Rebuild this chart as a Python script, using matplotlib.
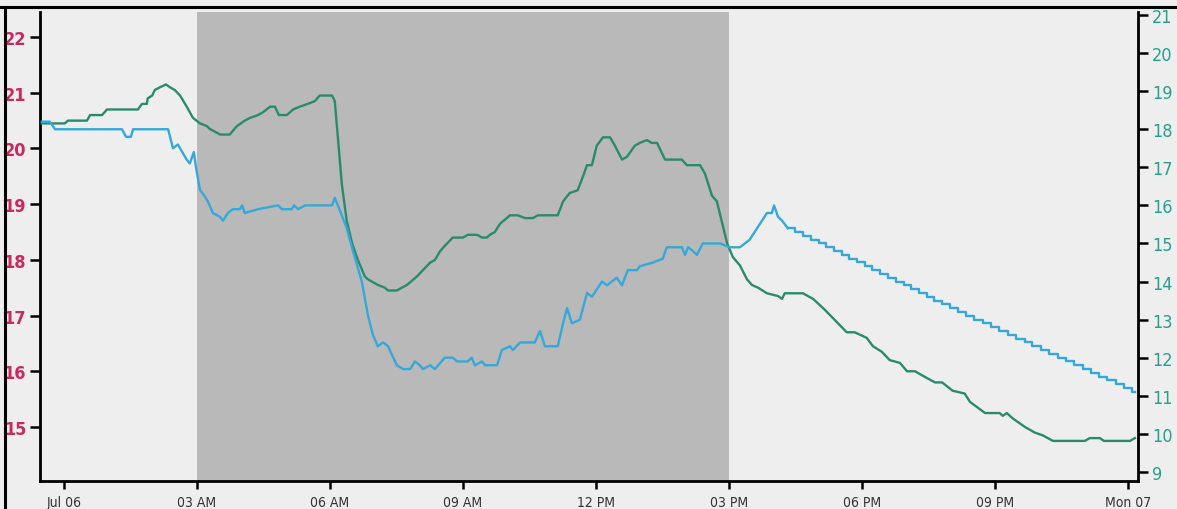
import matplotlib
matplotlib.use("Agg")
import matplotlib.pyplot as plt
from matplotlib.lines import Line2D

# hours since Jul 06 00:00
green_hours = [-0.50, 0.02, 0.09, 0.52, 0.59, 0.86, 0.97, 1.04, 1.67, 1.76,
               1.87, 1.89, 1.99, 2.05, 2.17, 2.30, 2.39, 2.50, 2.62, 2.77,
               2.91, 3.07, 3.23, 3.29, 3.41, 3.52, 3.74, 3.90, 4.08, 4.20,
               4.38, 4.49, 4.65, 4.76, 4.85, 5.03, 5.17, 5.32, 5.50, 5.66,
               5.77, 6.05, 6.11, 6.18, 6.27, 6.38, 6.50, 6.63, 6.79, 6.86,
               6.97, 7.08, 7.24, 7.31, 7.51, 7.62, 7.74, 7.96, 8.26, 8.37,
               8.48, 8.59, 8.77, 9.00, 9.11, 9.32, 9.43, 9.54, 9.61, 9.72,
               9.84, 9.99, 10.06, 10.24, 10.40, 10.58, 10.69, 11.14, 11.26, 11.41,
               11.59, 11.71, 11.80, 11.91, 12.02, 12.16, 12.32, 12.43, 12.59, 12.70,
               12.88, 12.99, 13.15, 13.26, 13.38, 13.56, 13.94, 14.05, 14.35, 14.46,
               14.62, 14.73, 14.96, 15.09, 15.25, 15.41, 15.52, 15.66, 15.86, 16.11,
               16.20, 16.26, 16.67, 16.90, 17.17, 17.66, 17.84, 18.11, 18.25, 18.45,
               18.63, 18.86, 19.02, 19.20, 19.42, 19.65, 19.81, 20.05, 20.32, 20.44,
               20.78, 21.11, 21.18, 21.27, 21.41, 21.68, 21.90, 22.08, 22.31, 23.03,
               23.14, 23.37, 23.46, 24.05, 24.16]
green_temp = [20.45, 20.45, 20.5, 20.5, 20.6, 20.6, 20.7, 20.7, 20.7, 20.8,
              20.8, 20.9, 20.95, 21.05, 21.1, 21.15, 21.1, 21.05, 20.95, 20.75,
              20.55, 20.45, 20.4, 20.35, 20.3, 20.25, 20.25, 20.4, 20.5, 20.55,
              20.6, 20.65, 20.75, 20.75, 20.6, 20.6, 20.7, 20.75, 20.8, 20.85,
              20.95, 20.95, 20.85, 20.2, 19.35, 18.7, 18.3, 18.0, 17.7, 17.65,
              17.6, 17.55, 17.5, 17.45, 17.45, 17.5, 17.55, 17.7, 17.95, 18.0,
              18.15, 18.25, 18.4, 18.4, 18.45, 18.45, 18.4, 18.4, 18.45, 18.5,
              18.65, 18.75, 18.8, 18.8, 18.75, 18.75, 18.8, 18.8, 19.05, 19.2,
              19.25, 19.5, 19.7, 19.7, 20.05, 20.2, 20.2, 20.05, 19.8, 19.85,
              20.05, 20.1, 20.15, 20.1, 20.1, 19.8, 19.8, 19.7, 19.7, 19.55,
              19.15, 19.05, 18.3, 18.05, 17.9, 17.65, 17.55, 17.5, 17.4, 17.35,
              17.3, 17.4, 17.4, 17.3, 17.1, 16.7, 16.7, 16.6, 16.45, 16.35,
              16.2, 16.15, 16.0, 16.0, 15.9, 15.8, 15.8, 15.65, 15.6, 15.45,
              15.25, 15.25, 15.2, 15.25, 15.15, 15.0, 14.9, 14.85, 14.75, 14.75,
              14.8, 14.8, 14.75, 14.75, 14.8]

blue_hours = [-0.50, -0.32, -0.20, 1.31, 1.40, 1.51, 1.56, 2.35, 2.46, 2.57,
              2.77, 2.84, 2.93, 2.98, 3.07, 3.14, 3.25, 3.36, 3.52, 3.59,
              3.70, 3.81, 3.97, 4.02, 4.08, 4.38, 4.83, 4.92, 5.14, 5.19,
              5.28, 5.44, 6.05, 6.11, 6.18, 6.38, 6.52, 6.72, 6.86, 6.97,
              7.08, 7.20, 7.31, 7.51, 7.65, 7.81, 7.92, 8.03, 8.10, 8.26,
              8.37, 8.59, 8.77, 8.87, 9.11, 9.20, 9.27, 9.43, 9.50, 9.77,
              9.88, 10.06, 10.13, 10.29, 10.44, 10.62, 10.74, 10.85, 11.14, 11.26,
              11.35, 11.46, 11.64, 11.80, 11.91, 12.14, 12.25, 12.47, 12.59, 12.72,
              12.93, 12.99, 13.29, 13.51, 13.60, 13.94, 14.01, 14.08, 14.19, 14.28,
              14.41, 14.80, 15.02, 15.25, 15.36, 15.47, 15.86, 15.97, 16.02, 16.11,
              16.20, 16.33]
blue_temp = [18.2, 18.2, 18.0, 18.0, 17.8, 17.8, 18.0, 18.0, 17.5, 17.6,
             17.2, 17.1, 17.4, 17.0, 16.4, 16.3, 16.1, 15.8, 15.7, 15.6,
             15.8, 15.9, 15.9, 16.0, 15.8, 15.9, 16.0, 15.9, 15.9, 16.0,
             15.9, 16.0, 16.0, 16.2, 16.0, 15.4, 14.8, 14.0, 13.1, 12.6,
             12.3, 12.4, 12.3, 11.8, 11.7, 11.7, 11.9, 11.8, 11.7, 11.8,
             11.7, 12.0, 12.0, 11.9, 11.9, 12.0, 11.8, 11.9, 11.8, 11.8,
             12.2, 12.3, 12.2, 12.4, 12.4, 12.4, 12.7, 12.3, 12.3, 12.9,
             13.3, 12.9, 13.0, 13.7, 13.6, 14.0, 13.9, 14.1, 13.9, 14.3,
             14.3, 14.4, 14.5, 14.6, 14.9, 14.9, 14.7, 14.9, 14.8, 14.7,
             15.0, 15.0, 14.9, 14.9, 15.0, 15.1, 15.8, 15.8, 16.0, 15.7,
             15.6, 15.4]

# evening cool-down, read step by step
blue_tail_hours = [16.33, 16.50, 16.68, 16.85, 17.03, 17.20, 17.37, 17.55, 17.72, 17.89,
                   18.07, 18.24, 18.41, 18.59, 18.76, 18.94, 19.11, 19.28, 19.46, 19.63,
                   19.80, 19.98, 20.17, 20.35, 20.54, 20.73, 20.92, 21.10, 21.29, 21.48,
                   21.67, 21.85, 22.04, 22.23, 22.42, 22.60, 22.79, 22.98, 23.17, 23.35,
                   23.54, 23.73, 23.92, 24.10, 24.16]
blue_tail_temp = [15.4, 15.3, 15.2, 15.1, 15.0, 14.9, 14.8, 14.7, 14.6, 14.5,
                  14.4, 14.3, 14.2, 14.1, 14.0, 13.9, 13.8, 13.7, 13.6, 13.5,
                  13.4, 13.3, 13.2, 13.1, 13.0, 12.9, 12.8, 12.7, 12.6, 12.5,
                  12.4, 12.3, 12.2, 12.1, 12.0, 11.9, 11.8, 11.7, 11.6, 11.5,
                  11.4, 11.3, 11.2, 11.1, 11.1]

night_start, night_end = 3, 15
tick_hours = [0, 3, 6, 9, 12, 15, 18, 21, 24]
tick_labels = ["Jul 06", "03 AM", "06 AM", "09 AM", "12 PM", "03 PM", "06 PM", "09 PM", "Mon 07"]
left_ticks = [15, 16, 17, 18, 19, 20, 21, 22]
right_ticks = [9, 10, 11, 12, 13, 14, 15, 16, 17, 18, 19, 20, 21]

GREEN = "#2a8a6c"
BLUE = "#35a8d8"
BG = "#eeeeee"

fig = plt.figure(figsize=(11.77, 5.10), dpi=100, facecolor=BG)
ax = fig.add_axes([40 / 1177, 28 / 510, 1098 / 1177, 469 / 510])
ax.set_facecolor(BG)
ax.axvspan(night_start, night_end, color="#b9b9b9", lw=0, zorder=0)
ax.plot(green_hours, green_temp, color=GREEN, lw=1.7, zorder=3)

ax2 = ax.twinx()
ax2.plot(blue_hours, blue_temp, color=BLUE, lw=1.7)
ax2.step(blue_tail_hours, blue_tail_temp, where="post", color=BLUE, lw=1.7)

ax.set_xlim(-0.54, 24.23)
ax.set_ylim(14.03, 22.45)
ax2.set_ylim(8.76, 21.08)

for s in ["top", "right"]:
    ax.spines[s].set_visible(False)
for s in ["top", "left", "bottom"]:
    ax2.spines[s].set_visible(False)
ax.spines["left"].set_linewidth(2)
ax.spines["bottom"].set_linewidth(2)
ax2.spines["right"].set_linewidth(2)

ax.set_xticks(tick_hours)
ax.set_xticklabels(tick_labels)
ax.set_yticks(left_ticks)
ax2.set_yticks(right_ticks)

ax.tick_params(axis="x", direction="out", length=6, width=1.8, pad=4, labelsize=10, labelcolor="#333333")
ax.tick_params(axis="y", direction="out", length=7, width=1.8, pad=3, labelsize=13, labelcolor="#c92a5e")
ax2.tick_params(axis="y", direction="out", length=7, width=1.8, pad=3, labelsize=13, labelcolor="#25a08e")

for lbl in ax.get_xticklabels():
    lbl.set_fontstretch("condensed")
for lbl in ax.get_yticklabels():
    lbl.set_fontstretch("condensed")
    lbl.set_fontweight("bold")
for lbl in ax2.get_yticklabels():
    lbl.set_fontstretch("condensed")

# black frame lines at top and left of the image
fig.add_artist(Line2D([0, 1], [1 - 8 / 510, 1 - 8 / 510], color="black", lw=2.2, transform=fig.transFigure))
fig.add_artist(Line2D([5 / 1177, 5 / 1177], [0, 1 - 8 / 510], color="black", lw=2.2, transform=fig.transFigure))

fig.savefig("out.png", dpi=100, facecolor=BG)
